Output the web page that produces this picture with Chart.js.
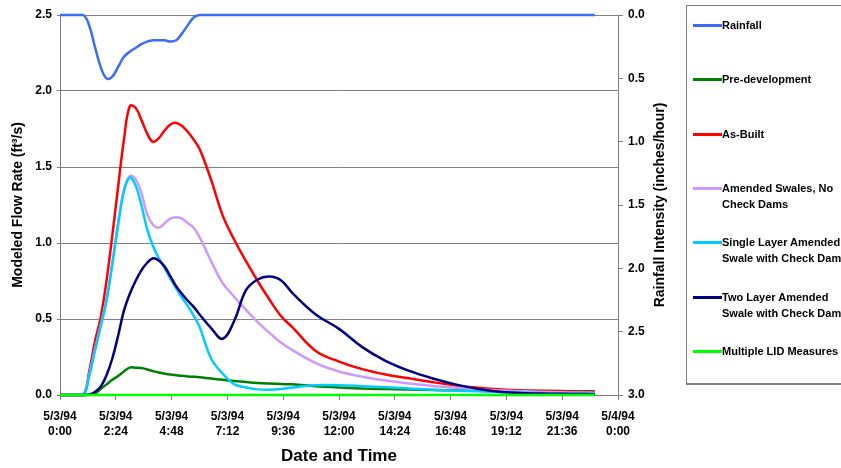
<!DOCTYPE html>
<html>
<head>
<meta charset="utf-8">
<script src="https://cdn.jsdelivr.net/npm/chart.js@4.4.1/dist/chart.umd.min.js"></script>
<style>
    body { margin: 0; background: #fff; }
    #wrap { position: relative; width: 841px; height: 468px; overflow: hidden; }
    #legendBox {
        position: absolute; left: 686px; top: 5px; width: 160px; height: 377px;
        border: 1px solid #808080; border-bottom-width: 2px; box-sizing: content-box;
    }
    .legend-item { position: absolute; left: 693px; font: bold 11px "Liberation Sans", Arial, sans-serif; color: #000; line-height: 16px; white-space: pre; }
    .legend-item .swatch { position: absolute; left: 0; top: 7px; width: 29px; height: 3px; }
    .legend-item .text { position: absolute; left: 29px; top: 0; }
</style>
</head>
<body>
<div id="wrap">
    <canvas id="flowChart" width="841" height="468"></canvas>
    <div id="legendBox"></div>
</div>
<script>
// time in hours after 5/3/94 0:00
const hours = [0, 0.5, 1, 1.25, 1.5, 1.75, 2, 2.25, 2.5, 2.75, 3, 3.25, 3.5, 3.75, 4, 4.25, 4.5, 4.75, 5, 5.25, 5.5, 5.75, 6,
    6.5, 7, 7.5, 8, 8.5, 9, 9.5, 10, 11, 12, 13, 14, 15, 16, 17, 18, 19, 20, 21, 22, 23];

// rainfall intensity (inches/hour), right axis
const rainfall = [0, 0, 0, 0.08, 0.25, 0.41, 0.5, 0.487, 0.41, 0.33, 0.29, 0.26, 0.23, 0.21, 0.2, 0.2, 0.2, 0.21, 0.2, 0.145, 0.08, 0.02, 0,
    0, 0, 0, 0, 0, 0, 0, 0, 0, 0, 0, 0, 0, 0, 0, 0, 0, 0, 0, 0, 0];

// modeled flow rates (ft3/s), left axis
const preDevelopment = [0, 0, 0, 0, 0.01, 0.04, 0.07, 0.1, 0.125, 0.155, 0.18, 0.18, 0.178, 0.168, 0.157, 0.148, 0.14, 0.135, 0.13, 0.126, 0.122, 0.12, 0.117,
    0.108, 0.1, 0.092, 0.085, 0.079, 0.075, 0.072, 0.07, 0.058, 0.05, 0.043, 0.039, 0.036, 0.033, 0.031, 0.029, 0.028, 0.027, 0.026, 0.025, 0.024];
const asBuilt = [0, 0, 0, 0.15, 0.35, 0.51, 0.75, 1.05, 1.37, 1.68, 1.9, 1.89, 1.81, 1.72, 1.665, 1.69, 1.74, 1.78, 1.79, 1.77, 1.73, 1.68, 1.62,
    1.415, 1.18, 1.02, 0.88, 0.75, 0.63, 0.52, 0.445, 0.29, 0.22, 0.17, 0.135, 0.11, 0.085, 0.063, 0.047, 0.036, 0.03, 0.026, 0.023, 0.02];
const amendedNoDams = [0, 0, 0, 0.13, 0.3, 0.46, 0.63, 0.87, 1.13, 1.35, 1.44, 1.42, 1.33, 1.19, 1.12, 1.1, 1.13, 1.16, 1.17, 1.16, 1.13, 1.1, 1.04,
    0.88, 0.735, 0.645, 0.56, 0.48, 0.41, 0.345, 0.295, 0.21, 0.155, 0.12, 0.095, 0.075, 0.06, 0.048, 0.038, 0.03, 0.024, 0.02, 0.017, 0.015];
const singleLayer = [0, 0, 0, 0.12, 0.29, 0.45, 0.62, 0.86, 1.12, 1.34, 1.43, 1.38, 1.25, 1.09, 0.98, 0.9, 0.835, 0.765, 0.7, 0.64, 0.585, 0.52, 0.45,
    0.24, 0.14, 0.07, 0.05, 0.037, 0.035, 0.04, 0.05, 0.064, 0.064, 0.058, 0.051, 0.043, 0.035, 0.029, 0.024, 0.018, 0.014, 0.012, 0.01, 0.01];
const twoLayer = [0, 0, 0, 0.003, 0.02, 0.055, 0.13, 0.24, 0.39, 0.555, 0.665, 0.75, 0.82, 0.87, 0.9, 0.885, 0.845, 0.78, 0.715, 0.665, 0.62, 0.58, 0.53,
    0.44, 0.37, 0.49, 0.69, 0.76, 0.78, 0.755, 0.67, 0.53, 0.435, 0.315, 0.225, 0.16, 0.11, 0.07, 0.04, 0.02, 0.012, 0.009, 0.007, 0.005];
const multipleLid = [0, 0, 0, 0, 0, 0, 0, 0, 0, 0, 0, 0, 0, 0, 0, 0, 0, 0, 0, 0, 0, 0, 0,
    0, 0, 0, 0, 0, 0, 0, 0, 0, 0, 0, 0, 0, 0, 0, 0, 0, 0, 0, 0, 0];

const seriesLabels = ['Rainfall', 'Pre-development', 'As-Built', 'Amended Swales, No\nCheck Dams',
    'Single Layer Amended\nSwale with Check Dam', 'Two Layer Amended\nSwale with Check Dam', 'Multiple LID Measures'];
const seriesValues = [rainfall, preDevelopment, asBuilt, amendedNoDams, singleLayer, twoLayer, multipleLid];
const seriesColors = ['#3a6cf4', '#008000', '#ff0000', '#cc99ff', '#00ccff', '#000080', '#00ff00'];

const fontFamily = '"Liberation Sans", Arial, sans-serif';

function timeLabel(value) {
    const minutes = Math.round(value * 60);
    const day = 3 + Math.floor(minutes / 1440);
    const h = Math.floor((minutes % 1440) / 60);
    const m = minutes % 60;
    return ['5/' + day + '/94', h + ':' + String(m).padStart(2, '0')];
}

// right axis title reads bottom-to-top like the left one
const rightTitle = {
    id: 'rightTitle',
    afterDraw(chart) {
        const ctx = chart.ctx;
        const area = chart.chartArea;
        ctx.save();
        ctx.translate(chart.scales.y2.left + 42, (area.top + area.bottom) / 2);
        ctx.rotate(-Math.PI / 2);
        ctx.font = 'bold 14px ' + fontFamily;
        ctx.fillStyle = '#000';
        ctx.textAlign = 'center';
        ctx.textBaseline = 'middle';
        ctx.fillText('Rainfall Intensity (inches/hour)', 0, 0);
        ctx.restore();
    }
};

const datasets = seriesLabels.map((label, i) => ({
    label: label,
    data: hours.map((h, j) => ({ x: h, y: seriesValues[i][j] })),
    borderColor: seriesColors[i],
    backgroundColor: seriesColors[i],
    yAxisID: i === 0 ? 'y2' : 'y',
    order: seriesLabels.length - i,
    clip: false,
    fill: false
}));

const ctx = document.getElementById('flowChart').getContext('2d');
const flowChart = new Chart(ctx, {
    type: 'line',
    data: { datasets: datasets },
    options: {
        responsive: false,
        animation: false,
        layout: { padding: { top: 15, right: 163, bottom: 0, left: 0 } },
        elements: {
            point: { radius: 0 },
            line: { borderWidth: 2.5, tension: 0.4 }
        },
        plugins: {
            legend: { display: false },
            tooltip: { enabled: false }
        },
        scales: {
            x: {
                type: 'linear',
                min: 0,
                max: 24,
                afterFit: s => { s.height = 73; },
                afterBuildTicks: s => { s.ticks = [0, 1, 2, 3, 4, 5, 6, 7, 8, 9, 10].map(k => ({ value: k * 2.4 })); },
                ticks: {
                    color: '#000',
                    padding: 9,
                    maxRotation: 0,
                    autoSkip: false,
                    font: { family: fontFamily, size: 12, weight: 'bold', lineHeight: 1.25 },
                    callback: v => timeLabel(v)
                },
                grid: { drawOnChartArea: false, tickLength: 5, color: '#808080' },
                border: { color: '#808080' },
                title: {
                    display: true,
                    text: 'Date and Time',
                    color: '#000',
                    font: { family: fontFamily, size: 17, weight: 'bold' },
                    padding: { top: 4, bottom: 1 }
                }
            },
            y: {
                position: 'left',
                min: 0,
                max: 2.5,
                afterFit: s => { s.width = 60; },
                ticks: {
                    stepSize: 0.5,
                    color: '#000',
                    padding: 5,
                    font: { family: fontFamily, size: 12, weight: 'bold' },
                    callback: v => v.toFixed(1)
                },
                grid: { color: '#808080', tickLength: 3 },
                border: { color: '#808080' },
                title: {
                    display: true,
                    text: 'Modeled Flow Rate (ft\u00b3/s)',
                    color: '#000',
                    font: { family: fontFamily, size: 14, weight: 'bold' },
                    padding: { top: 10, bottom: 4 }
                }
            },
            y2: {
                position: 'right',
                reverse: true,
                min: 0,
                max: 3,
                afterFit: s => { s.width = 60; },
                ticks: {
                    stepSize: 0.5,
                    color: '#000',
                    padding: 5,
                    font: { family: fontFamily, size: 12, weight: 'bold' },
                    callback: v => v.toFixed(1)
                },
                grid: { drawOnChartArea: false, tickLength: 5, color: '#808080' },
                border: { color: '#808080' }
            }
        }
    },
    plugins: [rightTitle]
});

// legend box on the right
const wrap = document.getElementById('wrap');
seriesLabels.forEach((label, i) => {
    const item = document.createElement('div');
    item.className = 'legend-item';
    item.style.top = Math.round(17 + i * 54.3) + 'px';
    item.innerHTML = '<span class="swatch"></span><span class="text"></span>';
    item.querySelector('.swatch').style.background = seriesColors[i];
    item.querySelector('.text').textContent = label;
    wrap.appendChild(item);
});
</script>
</body>
</html>
